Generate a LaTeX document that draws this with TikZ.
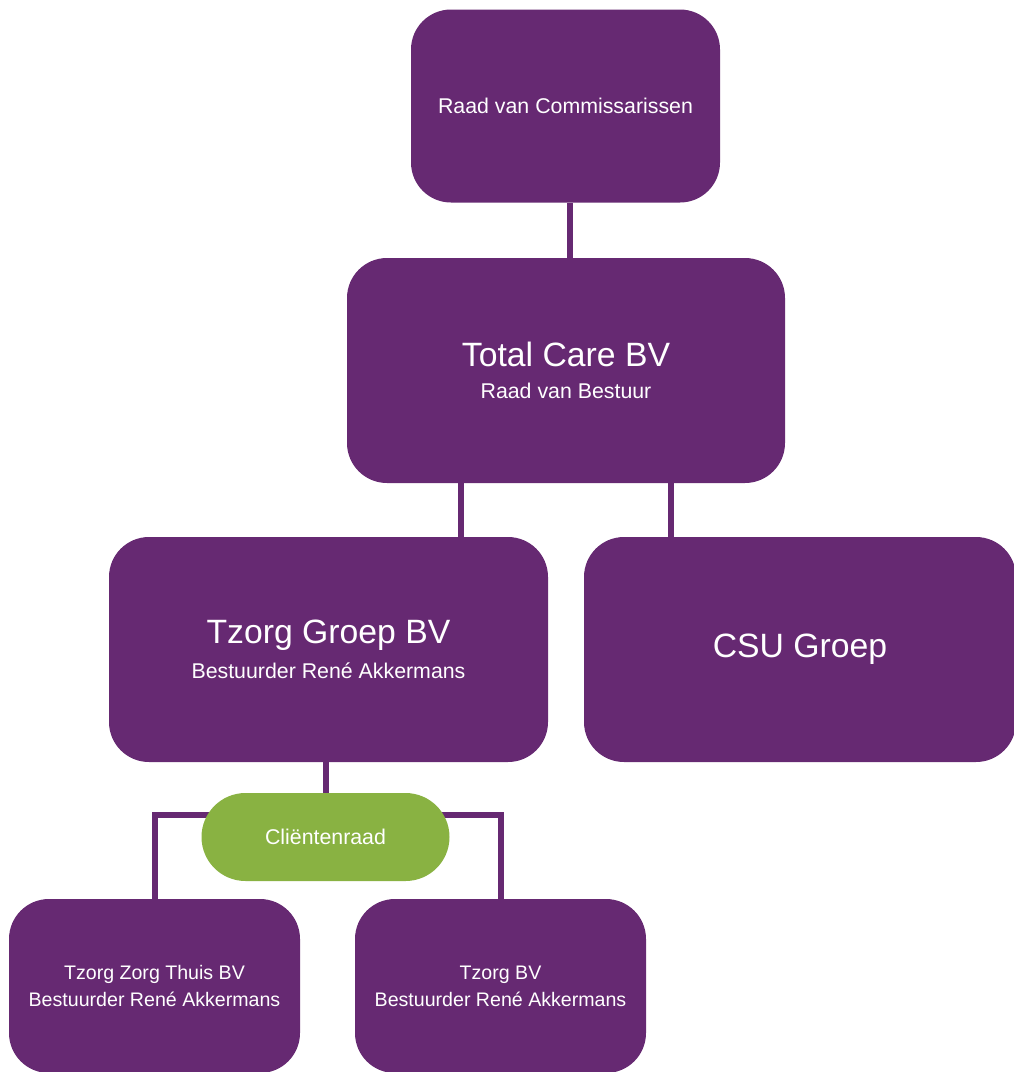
\documentclass[tikz,border=0pt]{standalone}
\usepackage{fontspec}
\setmainfont{Liberation Sans}
\definecolor{tzpurple}{RGB}{102,41,114}
\definecolor{tzgreen}{RGB}{137,178,66}
\tikzset{
  orgbox/.style={fill=tzpurple, text=white, rounded corners=30pt, align=center, inner sep=0pt},
  link/.style={draw=tzpurple, line width=4.5pt},
}
\newcommand{\bigtxt}{\fontsize{25.3}{30}\selectfont}
\newcommand{\midtxt}{\fontsize{16}{24}\selectfont}
\newcommand{\smalltxt}{\fontsize{14.7}{18.75}\selectfont}

\begin{document}
\begin{tikzpicture}[x=0.75pt,y=-0.75pt]
    \clip (0,0) rectangle (1014,1072);

    % Boxes
    \node[orgbox, minimum width=231.75pt, minimum height=144.75pt] (rvc) at (565.5,106) {\midtxt Raad van Commissarissen};
    \node[orgbox, minimum width=328.5pt, minimum height=168.75pt] (tcb) at (566,370.5)
        {\bigtxt Total Care BV\\[12pt]\midtxt Raad van Bestuur};
    \node[orgbox, minimum width=329.25pt, minimum height=168.75pt] (tgb) at (328.5,649.5)
        {\bigtxt Tzorg Groep BV\\[8pt]\midtxt Bestuurder René Akkermans};
    \node[orgbox, minimum width=324pt, minimum height=168.75pt] (csu) at (800,649.5) {\bigtxt CSU Groep};
    \node[orgbox, minimum width=218.25pt, minimum height=130.5pt] (tzt) at (154.5,986)
        {\smalltxt Tzorg Zorg Thuis BV\\[5.5pt]\smalltxt Bestuurder René Akkermans};
    \node[orgbox, minimum width=218.25pt, minimum height=130.5pt] (tbv) at (500.5,986)
        {\smalltxt Tzorg BV\\[5.5pt]\smalltxt Bestuurder René Akkermans};

    % branching coordinate
    \coordinate (split) at (325.5,815);

    % Lines
    \draw[link] (rvc.south) ++(4.5,0) coordinate (r1) -- (r1 |- tcb.north);
    \draw[link] (tcb.south) ++(-105,0) coordinate (t1) -- (t1 |- tgb.north);
    \draw[link] (tcb.south) ++(105,0) coordinate (t2) -- (t2 |- csu.north);
    \draw[link] (tzt.north) |- (split) -| (tbv.north);

    % Client council
    \node[orgbox, fill=tzgreen, rounded corners=33pt, minimum width=186pt, minimum height=66pt] (cr) at (325.5,837) {\midtxt Cliëntenraad};
    \draw[link] (cr.north) -- (cr.north |- tgb.south);
\end{tikzpicture}
\end{document}
